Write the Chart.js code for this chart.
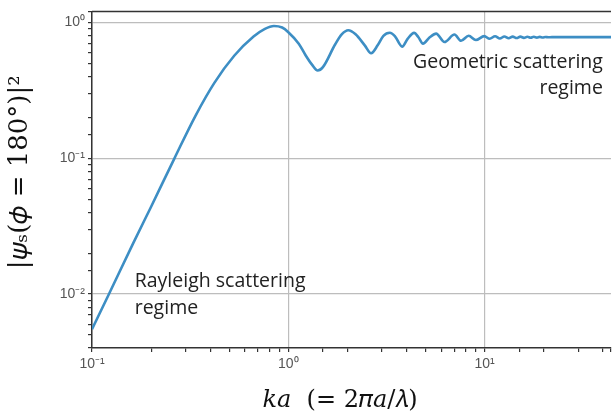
<!DOCTYPE html>
<html>
<head>
<meta charset="utf-8">
<script src="https://cdn.jsdelivr.net/npm/chart.js@4"></script>
<style>
  html, body { margin: 0; padding: 0; background: #fff; }
  #wrap { width: 615px; height: 417px; }
</style>
</head>
<body>
<div id="wrap"><canvas id="scatterChart"></canvas></div>
<script>
// ka values and backscattered intensity
const ka = [0.1, 0.12, 0.162, 0.2, 0.263, 0.336, 0.42, 0.53, 0.665, 0.76, 0.845, 0.93, 1.0, 1.13, 1.22, 1.32, 1.41,
    1.5, 1.73, 1.87, 2.02, 2.2, 2.45, 2.64, 2.85, 3.05, 3.29, 3.5, 3.8, 4.05, 4.37, 4.6, 4.85, 5.25, 5.66, 6.24,
    7.02, 7.58, 8.29, 9.02, 9.95, 10.6, 11.3, 11.95, 12.6, 13.25, 13.9, 14.55, 15.2, 15.85, 16.5, 17.15, 17.8,
    18.45, 19.1, 19.75, 20.4, 21.05, 22, 30, 44];
const intensity = [0.0055, 0.0095, 0.0236, 0.044, 0.1, 0.205, 0.36, 0.57, 0.79, 0.9, 0.944, 0.92, 0.85, 0.70, 0.58, 0.49, 0.444,
    0.47, 0.69, 0.82, 0.879, 0.82, 0.68, 0.595, 0.68, 0.80, 0.843, 0.79, 0.666, 0.76, 0.84, 0.78, 0.70, 0.78, 0.83, 0.72,
    0.817, 0.735, 0.80, 0.744, 0.795, 0.76, 0.793, 0.764, 0.791, 0.767, 0.789, 0.77, 0.788, 0.772, 0.787, 0.774, 0.786,
    0.776, 0.785, 0.778, 0.784, 0.78, 0.782, 0.782, 0.782];

const xTickLabels = { '0.1': '10\u207B\u00B9', '1': '10\u2070', '10': '10\u00B9' };
const yTickLabels = { '0.01': '10\u207B\u00B2', '0.1': '10\u207B\u00B9', '1': '10\u2070' };

const xTitle = '\uD835\uDC58\uD835\uDC4E  (= 2\uD835\uDF0B\uD835\uDC4E/\uD835\uDF06)';
const yTitle = '|\uD835\uDF13\u209B(\uD835\uDF19 = 180\u00B0)|\u00B2';

const notes = [
    { text: ['Rayleigh scattering', 'regime'], x: 0.165, y: 0.0123, align: 'left' },
    { text: ['Geometric scattering', 'regime'], x: 40, y: 0.51, align: 'right' }
];

const isMajor = v => Math.abs(Math.log10(v) - Math.round(Math.log10(v))) < 1e-6;

const extras = {
    id: 'extras',
    afterDatasetsDraw(chart) {
        const { ctx, chartArea, scales } = chart;
        ctx.save();
        // top frame line
        ctx.strokeStyle = '#333';
        ctx.lineWidth = 1.5;
        ctx.beginPath();
        ctx.moveTo(chartArea.left, chartArea.top);
        ctx.lineTo(chartArea.right, chartArea.top);
        ctx.stroke();

        // annotations
        ctx.fillStyle = '#222';
        ctx.font = '19.5px "Open Sans"';
        ctx.textBaseline = 'middle';
        notes.forEach(n => {
            const px = scales.x.getPixelForValue(n.x);
            const py = scales.y.getPixelForValue(n.y);
            ctx.textAlign = n.align;
            n.text.forEach((line, i) => ctx.fillText(line, px, py + i * 26.5));
        });

        // axis titles (matplotlib axes is wider than the cropped picture)
        ctx.fillStyle = '#111';
        ctx.textAlign = 'center';
        ctx.font = '24px "DejaVu Serif"';
        ctx.fillText(xTitle, chartArea.left + chartArea.width * 0.478, chart.height - 16);
        ctx.translate(20, chartArea.top + chartArea.height * 0.478);
        ctx.rotate(-Math.PI / 2);
        ctx.font = '26px "DejaVu Serif"';
        ctx.fillText(yTitle, 0, 0);
        ctx.restore();
    }
};

const ctx = document.getElementById('scatterChart').getContext('2d');

new Chart(ctx, {
    type: 'line',
    data: {
        datasets: [{
            data: ka.map((x, i) => ({ x: x, y: intensity[i] })),
            borderColor: '#3d8ec4',
            borderWidth: 2.6,
            pointRadius: 0,
            cubicInterpolationMode: 'monotone',
            fill: false
        }]
    },
    options: {
        responsive: true,
        maintainAspectRatio: false,
        animation: false,
        layout: { padding: { top: 4, right: 0, left: 0, bottom: 0 } },
        plugins: { legend: { display: false }, tooltip: { enabled: false } },
        scales: {
            x: {
                type: 'logarithmic',
                min: 0.1,
                max: 44,
                afterFit(scale) { scale.height = 69; },
                border: { color: '#333', width: 1.5 },
                grid: {
                    color: c => (c.tick && isMajor(c.tick.value)) ? '#bdbdbd' : 'rgba(0,0,0,0)',
                    lineWidth: 1.2,
                    tickColor: '#333',
                    tickLength: 4
                },
                ticks: {
                    autoSkip: false,
                    maxRotation: 0,
                    padding: 4,
                    color: '#555',
                    font: { family: '"Liberation Sans"', size: 14 },
                    callback: v => xTickLabels[String(v)] || ''
                }
            },
            y: {
                type: 'logarithmic',
                min: 0.004,
                max: 1.21,
                afterFit(scale) { scale.width = 92; },
                border: { color: '#333', width: 1.5 },
                grid: {
                    color: c => (c.tick && isMajor(c.tick.value)) ? '#bdbdbd' : 'rgba(0,0,0,0)',
                    lineWidth: 1.2,
                    tickColor: '#333',
                    tickLength: 4
                },
                ticks: {
                    autoSkip: false,
                    padding: 3,
                    color: '#555',
                    font: { family: '"Liberation Sans"', size: 14 },
                    callback: v => yTickLabels[String(v)] || ''
                }
            }
        }
    },
    plugins: [extras]
});
</script>
</body>
</html>
